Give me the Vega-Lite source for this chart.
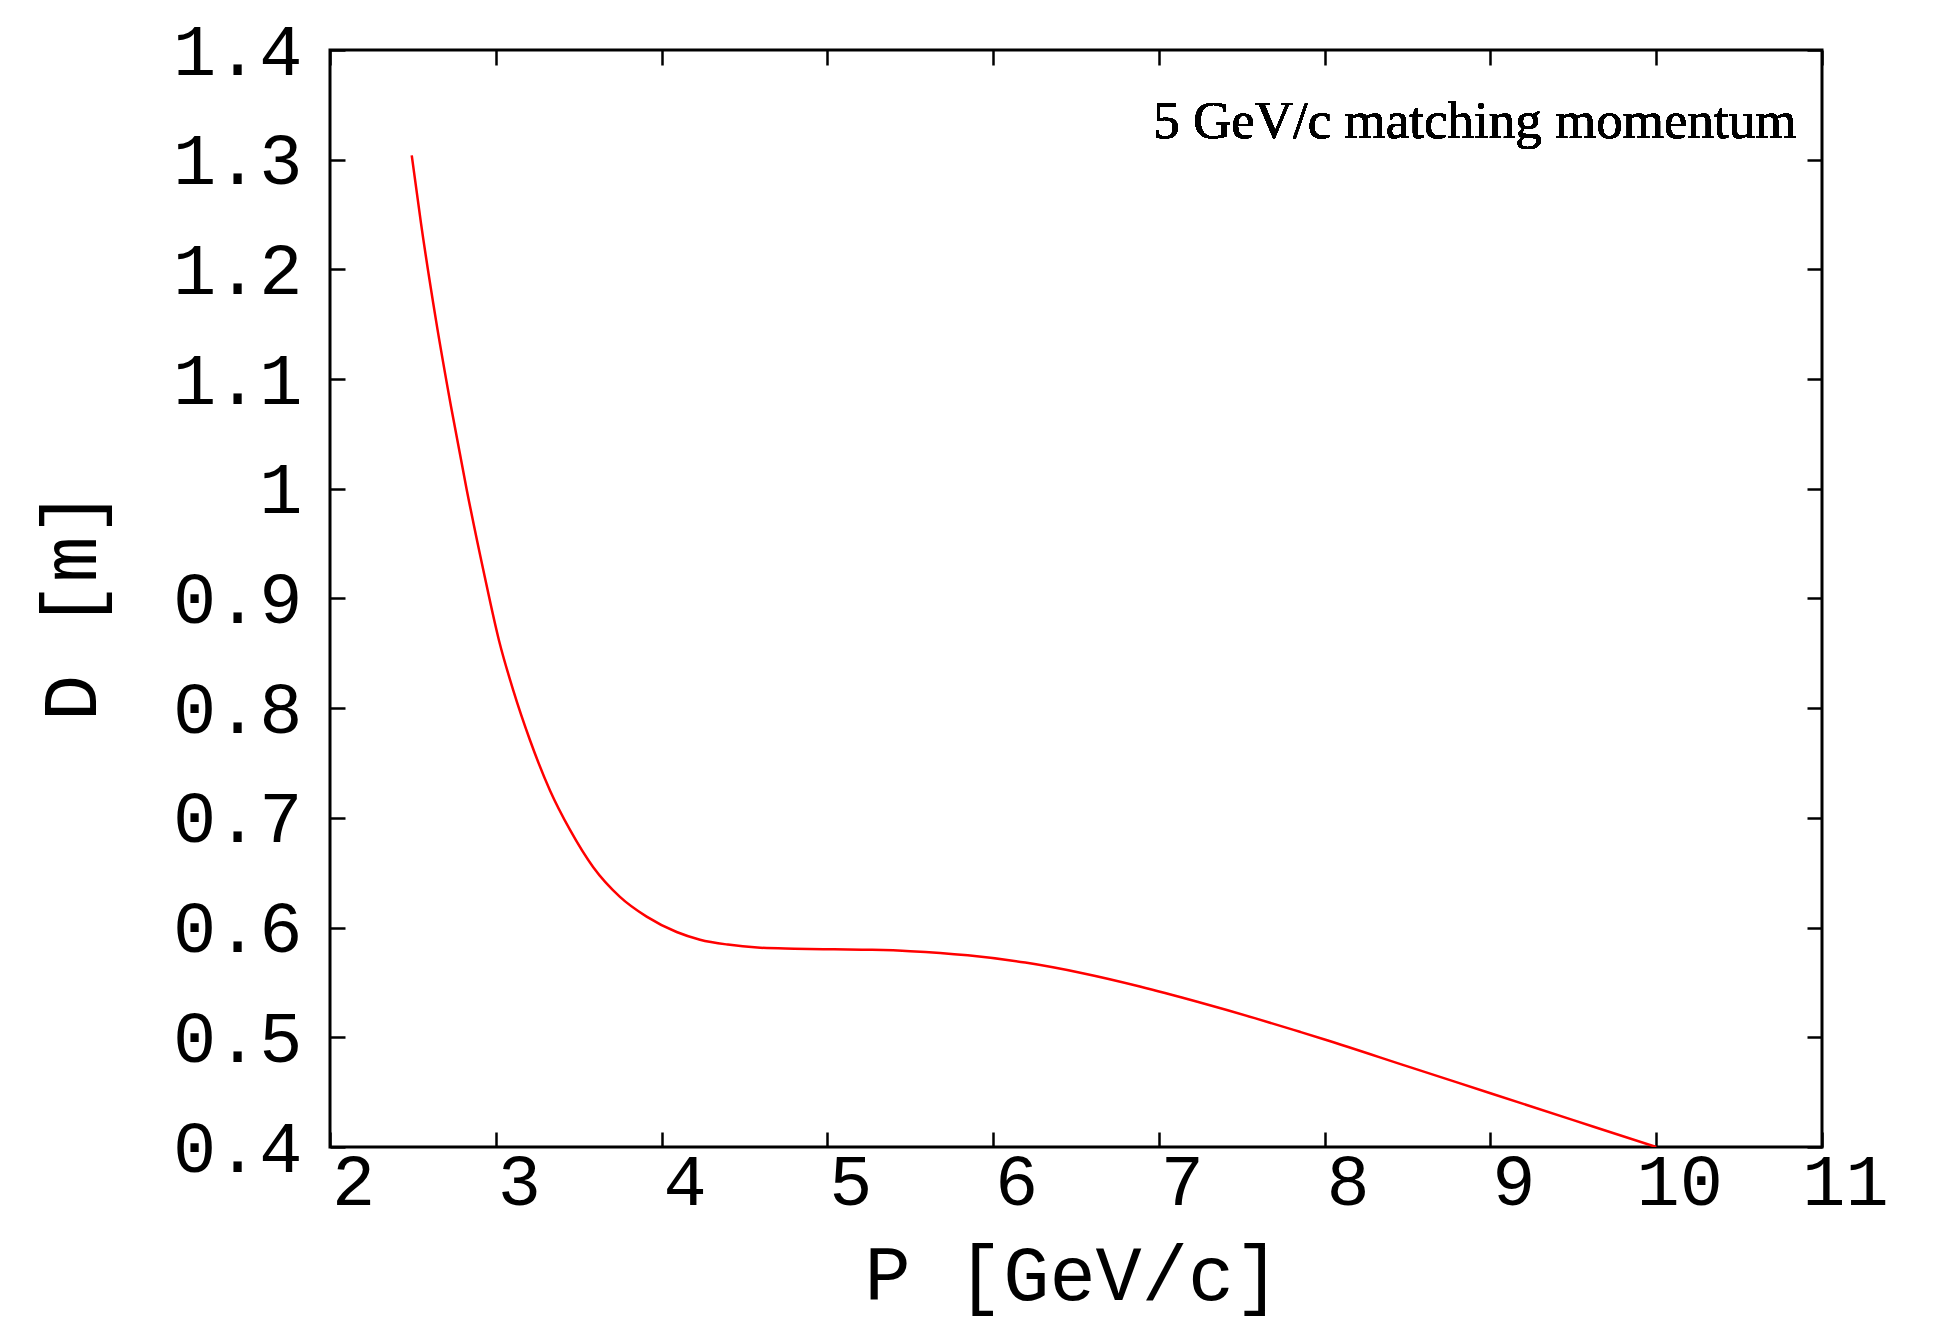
{
  "$schema": "https://vega.github.io/schema/vega-lite/v6.json",
  "width": 1492,
  "height": 1097,
  "autosize": {"type": "none"},
  "padding": {"left": 330, "top": 50, "right": 126, "bottom": 178},
  "background": "white",
  "config": {
    "view": {"stroke": "black", "strokeWidth": 3},
    "axis": {
      "grid": false,
      "domain": false,
      "ticks": true,
      "tickSize": -15,
      "tickWidth": 2.5,
      "tickColor": "black",
      "labelFont": "Liberation Mono",
      "labelFontSize": 72,
      "labelColor": "black",
      "titleFont": "Liberation Mono",
      "titleFontSize": 77,
      "titleFontWeight": "normal",
      "titleColor": "black"
    }
  },
  "data": {
    "values": [
      {"P": 2.493, "D": 1.304},
      {"P": 2.549, "D": 1.242},
      {"P": 2.639, "D": 1.154},
      {"P": 2.730, "D": 1.075},
      {"P": 2.825, "D": 0.999},
      {"P": 2.929, "D": 0.923},
      {"P": 3.019, "D": 0.862},
      {"P": 3.106, "D": 0.816},
      {"P": 3.206, "D": 0.771},
      {"P": 3.327, "D": 0.725},
      {"P": 3.448, "D": 0.689},
      {"P": 3.588, "D": 0.655},
      {"P": 3.749, "D": 0.628},
      {"P": 3.910, "D": 0.610},
      {"P": 4.091, "D": 0.596},
      {"P": 4.232, "D": 0.589},
      {"P": 4.400, "D": 0.5845},
      {"P": 4.578, "D": 0.5818},
      {"P": 4.800, "D": 0.5808},
      {"P": 5.040, "D": 0.5802},
      {"P": 5.270, "D": 0.5797},
      {"P": 5.500, "D": 0.5785},
      {"P": 5.847, "D": 0.5747},
      {"P": 6.194, "D": 0.5681},
      {"P": 6.540, "D": 0.5584},
      {"P": 6.885, "D": 0.5463},
      {"P": 7.232, "D": 0.5324},
      {"P": 7.578, "D": 0.5175},
      {"P": 7.850, "D": 0.505},
      {"P": 8.000, "D": 0.498},
      {"P": 8.500, "D": 0.4735},
      {"P": 9.000, "D": 0.449},
      {"P": 9.500, "D": 0.4245},
      {"P": 10.000, "D": 0.400}
    ]
  },
  "layer": [
    {
      "mark": {"type": "line", "color": "#ff0000", "strokeWidth": 2.5, "interpolate": "monotone", "clip": true},
      "encoding": {
        "x": {
          "field": "P", "type": "quantitative",
          "scale": {"domain": [2, 11], "nice": false, "zero": false},
          "axis": {
            "orient": "bottom",
            "values": [2, 3, 4, 5, 6, 7, 8, 9, 10, 11],
            "labelPadding": 15,
            "labelOffset": 23,
            "labelFlush": false,
            "title": "P [GeV/c]",
            "titleBaseline": "alphabetic",
            "titleY": 152,
            "titleX": 742,
            "titleAnchor": "middle"
          }
        },
        "y": {
          "field": "D", "type": "quantitative",
          "scale": {"domain": [0.4, 1.4], "nice": false, "zero": false},
          "axis": {
            "orient": "left",
            "values": [0.4, 0.5, 0.6, 0.7, 0.8, 0.9, 1.0, 1.1, 1.2, 1.3, 1.4],
            "format": ".1~f",
            "labelPadding": 43,
            "labelOffset": 2,
            "labelFlush": false,
            "labelBaseline": "middle",
            "title": "D [m]",
            "titleAngle": -90,
            "titleBaseline": "alphabetic",
            "titleAlign": "center",
            "titleX": -235,
            "titleY": 555,
            "titleAnchor": "middle"
          }
        }
      }
    },
    {
      "mark": {"type": "text", "font": "Liberation Serif", "fontSize": 53, "align": "right", "baseline": "alphabetic", "color": "black"},
      "encoding": {
        "x": {
          "datum": 10.846, "type": "quantitative",
          "axis": {"orient": "top", "values": [2, 3, 4, 5, 6, 7, 8, 9, 10, 11], "labels": false, "title": null}
        },
        "y": {
          "datum": 1.3198, "type": "quantitative",
          "axis": {"orient": "right", "values": [0.4, 0.5, 0.6, 0.7, 0.8, 0.9, 1.0, 1.1, 1.2, 1.3, 1.4], "labels": false, "title": null}
        },
        "text": {"value": "5 GeV/c matching momentum"}
      }
    }
  ],
  "resolve": {"axis": {"x": "independent", "y": "independent"}}
}
